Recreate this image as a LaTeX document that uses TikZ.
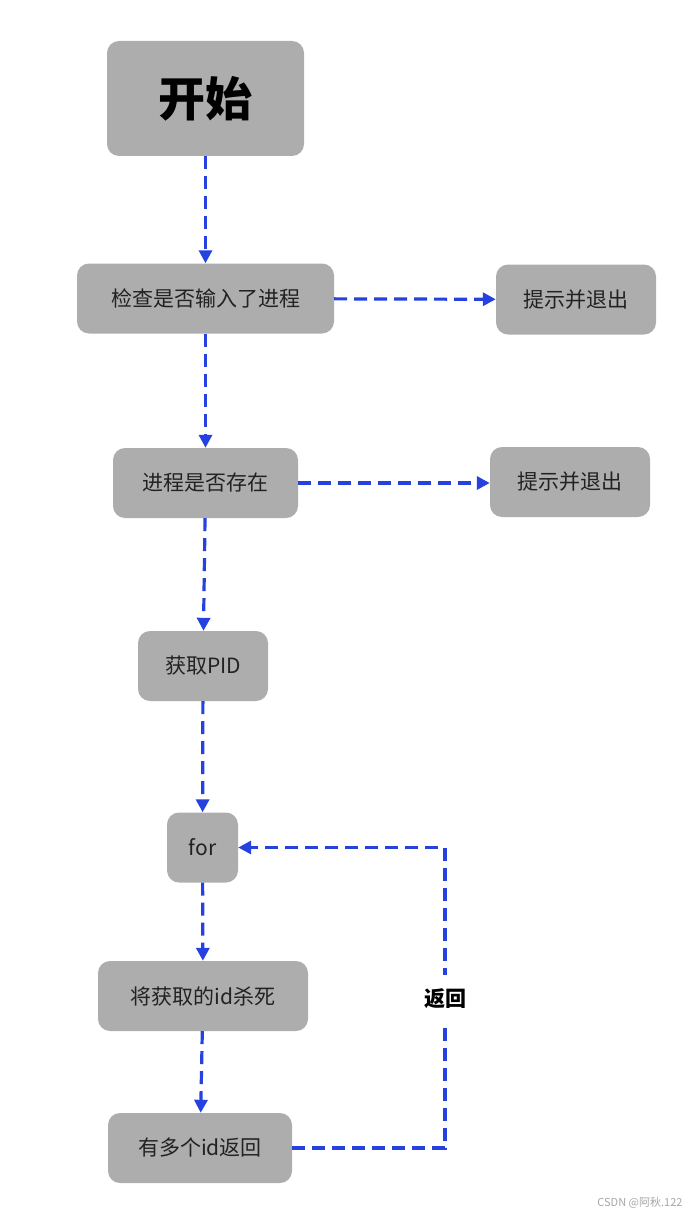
\documentclass[tikz,border=0pt]{standalone}
\usepackage{fontspec}
\setmainfont{Noto Sans CJK SC}
\usepackage{xcolor}
\usetikzlibrary{positioning, arrows.meta}
\definecolor{boxgray}{HTML}{ADADAD}
\definecolor{flowblue}{HTML}{2541E0}
\definecolor{textdark}{HTML}{222222}

\begin{document}
\begin{tikzpicture}[
  x=1pt, y=-1pt,
  every node/.style={font=\fontsize{21}{24}\selectfont, text=textdark},
  box/.style={fill=boxgray, rounded corners=12pt, minimum height=70pt,
              inner sep=0pt, align=center},
  flow/.style={draw=flowblue, line width=3.2pt, dash pattern=on 13pt off 7pt,
               -{Triangle[length=13pt, width=13pt]}},
]
  \useasboundingbox (0,0) rectangle (691,1217);

  % Main column
  \node[box, minimum width=197pt, minimum height=115pt,
        font=\fontsize{47}{50}\selectfont\bfseries, text=black]
    at (205.5,98.5) (start) {开始};
  \node[box, minimum width=257pt] at (205.5,298.5) (check) {检查是否输入了进程};
  \node[box, minimum width=185pt] at (205.5,483) (exists) {进程是否存在};
  \node[box, minimum width=130pt] at (203,666) (pid) {获取PID};
  \node[box, minimum width=71pt] at (202.5,847.5) (loop) {for};
  \node[box, minimum width=210pt] at (203,996) (kill) {将获取的id杀死};
  \node[box, minimum width=184pt] at (200,1148) (more) {有多个id返回};

  % Side exits
  \node[box, minimum width=160pt] at (576,299.5) (quit1) {提示并退出};
  \node[box, minimum width=160pt] at (570,482) (quit2) {提示并退出};

  % Connectors
  \draw[flow] (start) -- (check);
  \draw[flow] (check) -- (exists);
  \draw[flow] (exists) -- (pid);
  \draw[flow] (pid) -- (loop);
  \draw[flow] (loop) -- (kill);
  \draw[flow] (kill) -- (more);
  \draw[flow] (check) -- (quit1);
  \draw[flow] (exists.east) -- (quit2.west |- exists.east);

  % Loop back
  \coordinate (turn) at (445,1148);
  \coordinate (top) at (445,847.5);
  \draw[flow] (more.east) -- (turn) -- (top) -- (loop.east);
  \node[fill=white, inner xsep=3pt, inner ysep=14pt,
        font=\fontsize{21}{24}\selectfont\bfseries, text=black]
    at (445,999) (back) {返回};

  % Watermark
  \node[font=\fontsize{11}{13}\selectfont, text=black!35, anchor=east]
    at (686,1203) (mark) {CSDN @阿秋.122};
\end{tikzpicture}
\end{document}
